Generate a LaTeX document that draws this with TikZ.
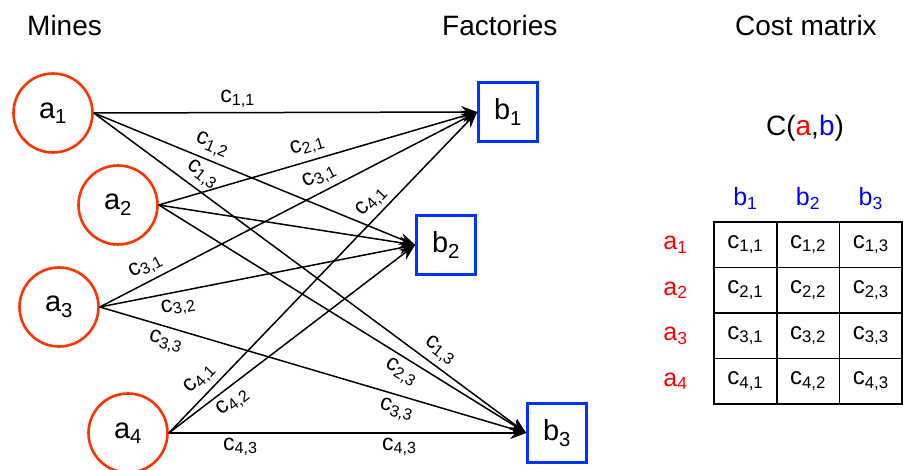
\documentclass[tikz,border=0pt]{standalone}
\usepackage{fontspec}
\setmainfont{Liberation Sans}
\usepackage{tikz}
\usetikzlibrary{arrows.meta, positioning}
\definecolor{minered}{RGB}{255,51,0}
\definecolor{factoryblue}{RGB}{0,51,255}
\definecolor{labelred}{RGB}{255,0,0}
\definecolor{labelblue}{RGB}{0,0,255}
\newcommand{\cst}[1]{c\textsubscript{#1}}

\begin{document}
\begin{tikzpicture}[x=1pt, y=-1pt,
    mine/.style={circle, draw=minered, line width=2.6pt, minimum size=79pt, inner sep=0pt, font=\fontsize{29}{33}\selectfont},
    factory/.style={rectangle, draw=factoryblue, line width=2.6pt, minimum size=59pt, inner sep=0pt, font=\fontsize{29}{33}\selectfont},
    route/.style={line width=1.5pt, -{Stealth[length=16pt, width=12pt, inset=5pt]}},
    cost/.style={sloped, inner sep=1pt, font=\fontsize{23}{27}\selectfont},
    cell/.style={draw, line width=1.8pt, minimum width=62.7pt, minimum height=45.5pt, inner sep=0pt, font=\fontsize{24}{28}\selectfont},
    title/.style={anchor=base west, inner sep=0pt, font=\fontsize{28}{32}\selectfont}]
    \useasboundingbox (0,0) rectangle (903,470);

    % Titles
    \node[title] (tmines) at (27,36) {Mines};
    \node[title] (tfactories) at (442,36) {Factories};
    \node[title] (tcost) at (735,36) {Cost matrix};

    % Mines
    \node[mine] (a1) at (53,113) {a\textsubscript{1}};
    \node[mine] (a2) at (118,205) {a\textsubscript{2}};
    \node[mine] (a3) at (59,307) {a\textsubscript{3}};
    \node[mine] (a4) at (128,433) {a\textsubscript{4}};

    % Factories
    \node[factory] (b1) at (508,112) {b\textsubscript{1}};
    \node[factory] (b2) at (446,245) {b\textsubscript{2}};
    \node[factory] (b3) at (557,433) {b\textsubscript{3}};

    % Routes
    \draw[route] (a1.east) -- node[cost, above=3pt, pos=0.375] {\cst{1,1}} (b1.west);
    \draw[route] (a1.east) -- node[cost, above=4pt, pos=0.35] {\cst{1,2}} (b2.west);
    \draw[route] (a1.east) -- node[cost, above=4pt, pos=0.23] {\cst{1,3}}
        node[cost, above=4pt, pos=0.78] {\cst{1,3}} (b3.west);
    \draw[route] (a2.east) -- node[cost, above=4pt, pos=0.48] {\cst{2,1}} (b1.west);
    \draw[route] (a2.east) -- (b2.west);
    \draw[route] (a2.east) -- node[cost, below=4pt, pos=0.68] {\cst{2,3}} (b3.west);
    \draw[route] (a3.east) -- node[cost, above=4pt, pos=0.14] {\cst{3,1}}
        node[cost, above=4pt, pos=0.60] {\cst{3,1}} (b1.west);
    \draw[route] (a3.east) -- node[cost, below=4pt, pos=0.24] {\cst{3,2}} (b2.west);
    \draw[route] (a3.east) -- node[cost, below=4pt, pos=0.164] {\cst{3,3}}
        node[cost, below=4pt, pos=0.705] {\cst{3,3}} (b3.west);
    \draw[route] (a4.east) -- node[cost, above=4pt, pos=0.136] {\cst{4,1}}
        node[cost, above=3pt, pos=0.69] {\cst{4,1}} (b1.west);
    \draw[route] (a4.east) -- node[cost, below=4pt, pos=0.225] {\cst{4,2}} (b2.west);
    \draw[route] (a4.east) -- node[cost, below=3pt, pos=0.2] {\cst{4,3}}
        node[cost, below=3pt, pos=0.645] {\cst{4,3}} (b3.west);

    % Cost matrix
    \node[font=\fontsize{28}{32}\selectfont, anchor=base] (cab) at (805,136)
        {C(\textcolor{labelred}{a},\textcolor{labelblue}{b})};
    \foreach \i in {1,...,4}
      \foreach \j in {1,2,3}
        \node[cell] (c\i\j) at ({714+62.7*(\j-0.5)}, {222+45.5*(\i-0.5)}) {\cst{\i,\j}};
    \foreach \i in {1,...,4}
      \node[text=labelred, font=\fontsize{25}{29}\selectfont, left=22pt of c\i1] (r\i) {a\textsubscript{\i}};
    \foreach \j in {1,2,3}
      \node[text=labelblue, font=\fontsize{25}{29}\selectfont, above=8pt of c1\j] (h\j) {b\textsubscript{\j}};
\end{tikzpicture}
\end{document}
